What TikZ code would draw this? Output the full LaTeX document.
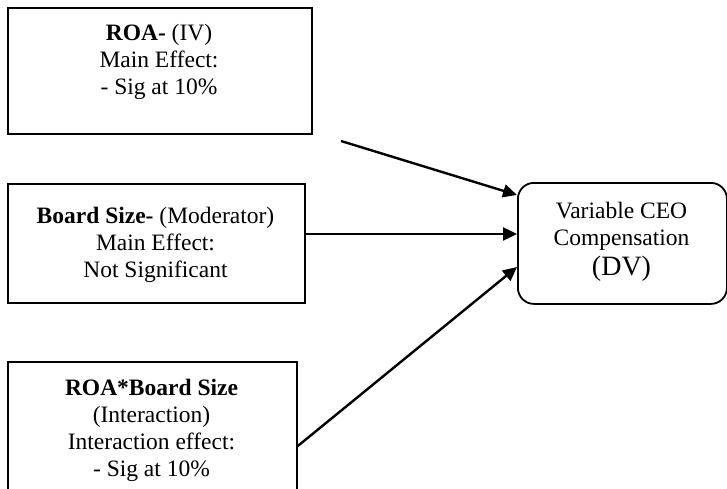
\documentclass[tikz,border=0pt]{standalone}
\usepackage{fontspec}
\setmainfont{Liberation Serif}
\usetikzlibrary{arrows.meta}
\begin{document}
\begin{tikzpicture}[x=1pt,y=-1pt,
  box/.style={draw, line width=1.8pt, inner sep=0pt, anchor=north west},
  lbl/.style={align=center, inner sep=0pt, anchor=north,
              font=\fontsize{23.5}{27}\selectfont},
  arr/.style={line width=2.4pt, -{Triangle[length=14pt,width=13pt]}}]
\clip (0,0) rectangle (727,489);

% predictor, moderator and interaction boxes
\node[box, minimum width=304pt, minimum height=126pt] (roa) at (7,7) {};
\node[box, minimum width=297pt, minimum height=119pt] (board) at (7,183) {};
\node[box, minimum width=289pt, minimum height=160pt] (inter) at (7,361) {};

% dependent variable
\node[box, rounded corners=16pt, minimum width=209pt, minimum height=121pt] (dv) at (517,182) {};

% box texts
\node[lbl] (roaT) at (159,23.5) {\textbf{ROA-} (IV)\\Main Effect:\\- Sig at 10\%};
\node[lbl] (boardT) at (155.5,206.5) {\textbf{Board Size-} (Moderator)\\Main Effect:\\Not Significant};
\node[lbl] (interT) at (151.5,378.5) {\textbf{ROA*Board Size}\\(Interaction)\\Interaction effect:\\- Sig at 10\%};
\node[lbl] (dvT) at (621.5,202) {Variable CEO\\Compensation\\[3pt]{\fontsize{28}{33}\selectfont (DV)}};

% arrow end points
\coordinate (roaOut) at (341,141);
\coordinate (dvIn1) at (517,195);
\coordinate (dvIn3) at (517,267);

% paths into the dependent variable
\draw[arr] (roaOut) -- (dvIn1);
\draw[arr] (board.east |- 0,234) -- (dv.west |- 0,234);
\draw[arr] (inter.east |- 0,446) -- (dvIn3);
\end{tikzpicture}
\end{document}
